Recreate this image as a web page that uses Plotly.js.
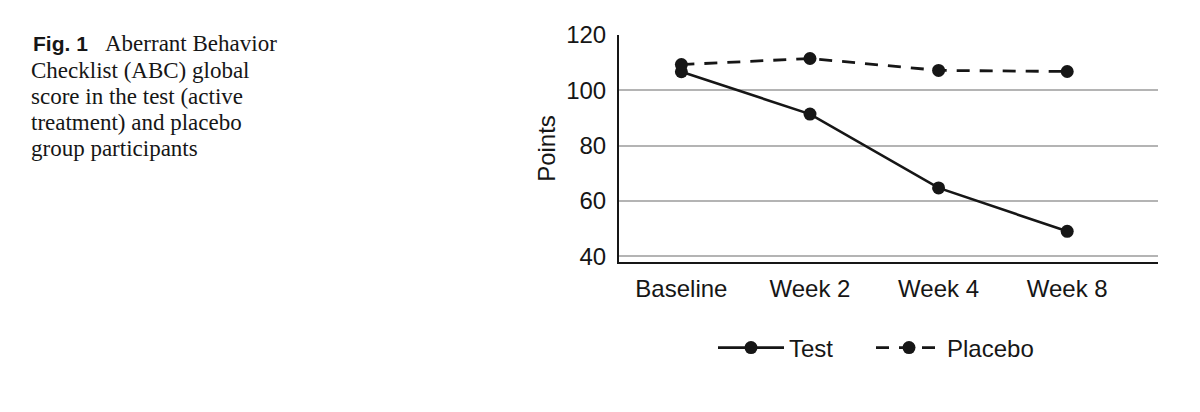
<!DOCTYPE html>
<html>
<head>
<meta charset="utf-8">
<script src="https://cdn.plot.ly/plotly-3.0.1.min.js"></script>
<style>html,body{margin:0;padding:0;background:#fff;}#chart{width:1200px;height:412px;}</style>
</head>
<body>
<div id="chart"></div>
<script>
const categories = ["Baseline", "Week 2", "Week 4", "Week 8"];
const testValues = [106.7, 91.4, 64.7, 49.0];
const placeboValues = [109.3, 111.5, 107.2, 106.8];
const yTicks = [40, 60, 80, 100, 120];
const captionLabel = "Fig. 1";
const captionLines = [
  "Aberrant Behavior",
  "Checklist (ABC) global",
  "score in the test (active",
  "treatment) and placebo",
  "group participants"
];

const M = {l: 619, r: 42, t: 35, b: 150};
const W = 1200, H = 412;
const pw = W - M.l - M.r, ph = H - M.t - M.b;
const px = x => (x - M.l) / pw;
const py = y => (H - M.b - y) / ph;

const ink = "#161616";
const serif = "Liberation Serif, Times New Roman, serif";
const sans = "Liberation Sans, Arial, sans-serif";

const traces = [
  {
    x: categories, y: testValues, name: "Test", type: "scatter", mode: "lines+markers",
    line: {color: ink, width: 2.6},
    marker: {color: ink, size: 13},
    legend: "legend"
  },
  {
    x: categories, y: placeboValues, name: "Placebo", type: "scatter", mode: "lines+markers",
    line: {color: ink, width: 2.8, dash: "13px,10px"},
    marker: {color: ink, size: 13},
    legend: "legend2"
  }
];

const annotations = [
  {
    xref: "paper", yref: "paper", x: px(31), y: py(43), xanchor: "left", yanchor: "middle",
    showarrow: false, font: {family: sans, size: 21, color: ink}, text: "<b>" + captionLabel + "</b>"
  }
];
captionLines.forEach((t, i) => {
  annotations.push({
    xref: "paper", yref: "paper", x: px(i === 0 ? 103 : 29), y: py(44 + 26.2 * i),
    xanchor: "left", yanchor: "middle", showarrow: false,
    font: {family: serif, size: 23, color: ink}, text: t
  });
});

const legendBase = {orientation: "h", xanchor: "left", yanchor: "middle", y: py(348),
                    font: {size: 24}, itemwidth: 66, bgcolor: "rgba(0,0,0,0)"};

const layout = {
  width: W, height: H,
  margin: M,
  paper_bgcolor: "#fff", plot_bgcolor: "#fff",
  font: {family: sans, color: ink, size: 24},
  showlegend: true,
  legend: Object.assign({}, legendBase, {x: px(713)}),
  legend2: Object.assign({}, legendBase, {x: px(871)}),
  xaxis: {
    type: "category", range: [-0.485, 3.706],
    showline: true, linecolor: ink, linewidth: 2,
    showgrid: false, zeroline: false, ticks: "",
    tickfont: {size: 24}, ticklabelstandoff: 4
  },
  yaxis: {
    range: [37.9, 120], tickvals: yTicks,
    showline: true, linecolor: ink, linewidth: 2,
    showgrid: true, gridcolor: "#b4b4b4", gridwidth: 2,
    zeroline: false, ticks: "", tickfont: {size: 24}, ticklabelstandoff: 6,
    title: {text: "Points", font: {size: 24}, standoff: 4}
  },
  annotations: annotations
};

Plotly.newPlot("chart", traces, layout, {displayModeBar: false, staticPlot: true});
</script>
</body>
</html>
